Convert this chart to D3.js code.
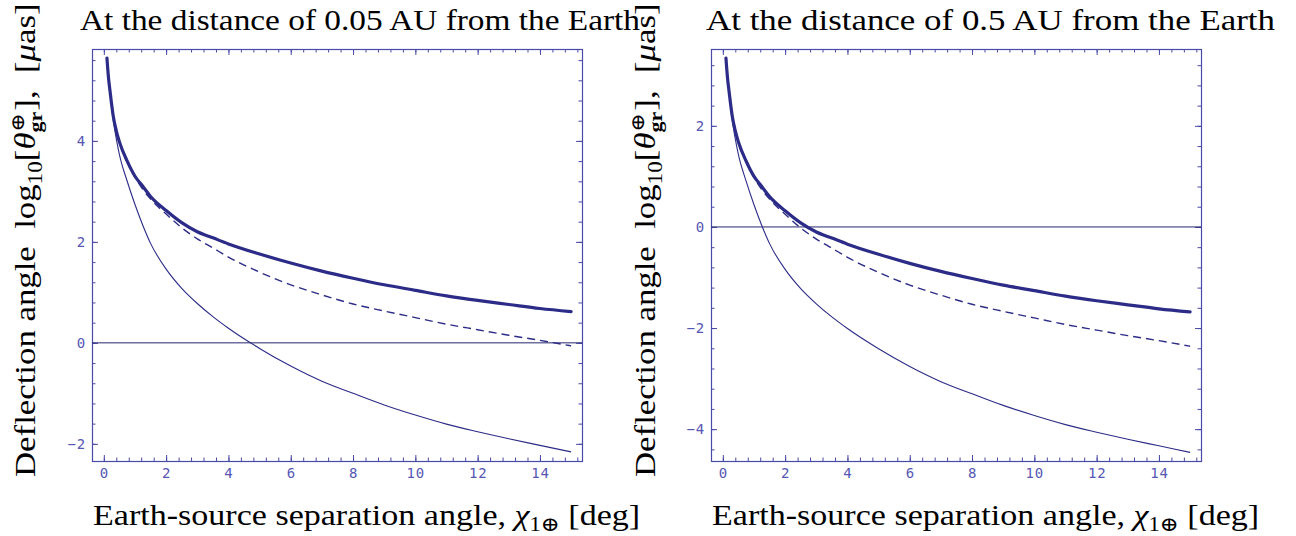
<!DOCTYPE html>
<html><head><meta charset="utf-8">
<script src="https://cdn.jsdelivr.net/npm/d3@7"></script>
<style>body{margin:0;background:#fff}</style>
</head><body>
<svg id="c" width="1296" height="536" xmlns="http://www.w3.org/2000/svg"></svg>
<script>
// ---- data ----
const chi = [0.1,0.15,0.2,0.3,0.4,0.5,0.75,1,1.25,1.5,2,2.5,3,3.5,4,5,6,7,8,9,10,11,12,13,14,15];

const nearThick  = [5.64,5.25,4.98,4.5,4.2,3.98,3.6,3.3,3.1,2.9,2.62,2.38,2.2,2.08,1.96,1.76,1.58,1.42,1.28,1.15,1.04,0.93,0.84,0.76,0.68,0.62];
const nearDashed = [5.64,5.25,4.98,4.5,4.2,3.97,3.58,3.28,3.04,2.85,2.55,2.28,2.06,1.88,1.7,1.4,1.15,0.95,0.77,0.63,0.5,0.37,0.26,0.15,0.05,-0.06];
const nearThin   = [5.64,5.22,4.95,4.42,4.04,3.73,3.2,2.74,2.33,1.97,1.46,1.08,0.78,0.52,0.29,-0.11,-0.46,-0.76,-1.0,-1.23,-1.43,-1.61,-1.76,-1.9,-2.03,-2.16];

const farThick  = [3.34,2.95,2.68,2.2,1.9,1.68,1.3,1.0,0.8,0.6,0.32,0.08,-0.1,-0.22,-0.34,-0.54,-0.72,-0.88,-1.02,-1.15,-1.26,-1.37,-1.46,-1.54,-1.62,-1.68];
const farDashed = [3.34,2.95,2.68,2.2,1.9,1.67,1.28,0.98,0.74,0.55,0.25,-0.02,-0.24,-0.42,-0.6,-0.9,-1.15,-1.35,-1.53,-1.67,-1.8,-1.93,-2.04,-2.15,-2.25,-2.36];
const farThin   = [3.34,2.92,2.65,2.12,1.74,1.43,0.9,0.44,0.03,-0.33,-0.84,-1.22,-1.52,-1.78,-2.01,-2.41,-2.76,-3.06,-3.3,-3.53,-3.73,-3.91,-4.06,-4.2,-4.33,-4.46];

const xTicks = [0,2,4,6,8,10,12,14];
const nearYTicks = [-2,0,2,4];
const farYTicks = [-4,-2,0,2];
const titles = ["At the distance of 0.05 AU from the Earth", "At the distance of 0.5 AU from the Earth"];

// ---- drawing ----
const svg = d3.select("#c");
const serif = "'Liberation Serif','DejaVu Serif',serif";
const mono = "'DejaVu Sans Mono','Liberation Mono',monospace";
const frameCol = "#4a4aa8", curveCol = "#2c2c88", tickTextCol = "#5656b4";

function panel(o) {
  const x = d3.scaleLinear().domain([-0.38, 15.35]).range([o.x0, o.x1]);
  const y = d3.scaleLinear().domain(o.ydom).range([461, 49]);
  const g = svg.append("g");

  const minorX = d3.range(0, 15.3, 0.4).map(v => +v.toFixed(2));
  const minorY = d3.range(Math.ceil(o.ydom[0] / 0.4) * 0.4, o.ydom[1], 0.4).map(v => +v.toFixed(2));

  function ax(axis, tr) {
    const a = g.append("g").attr("transform", tr).call(axis);
    a.select(".domain").remove();
    a.selectAll("line").attr("stroke", frameCol).attr("stroke-width", 1);
    a.selectAll("text").attr("font-family", mono).attr("font-size", 14).attr("letter-spacing", 0.8).attr("fill", tickTextCol);
    return a;
  }
  // minor ticks
  ax(d3.axisBottom(x).tickValues(minorX).tickSize(-3.5).tickFormat(""), `translate(0,461)`);
  ax(d3.axisTop(x).tickValues(minorX).tickSize(-3.5).tickFormat(""), `translate(0,49)`);
  ax(d3.axisLeft(y).tickValues(minorY).tickSize(-3.5).tickFormat(""), `translate(${o.x0},0)`);
  ax(d3.axisRight(y).tickValues(minorY).tickSize(-3.5).tickFormat(""), `translate(${o.x1},0)`);
  // major ticks
  ax(d3.axisBottom(x).tickValues(xTicks).tickSize(-6).tickPadding(7).tickFormat(d3.format("d")), `translate(0,461)`);
  ax(d3.axisTop(x).tickValues(xTicks).tickSize(-6).tickFormat(""), `translate(0,49)`);
  ax(d3.axisLeft(y).tickValues(o.yticks).tickSize(-6).tickPadding(6).tickFormat(d3.format("d")), `translate(${o.x0},0)`);
  ax(d3.axisRight(y).tickValues(o.yticks).tickSize(-6).tickFormat(""), `translate(${o.x1},0)`);

  // frame
  g.append("rect").attr("x", o.x0 + 0.5).attr("y", 49.5).attr("width", o.x1 - o.x0).attr("height", 412)
    .attr("fill", "none").attr("stroke", frameCol).attr("stroke-width", 1.2);

  // zero line
  g.append("line").attr("x1", o.x0).attr("x2", o.x1).attr("y1", y(0)).attr("y2", y(0))
    .attr("stroke", "#26266e").attr("stroke-width", 1);

  const line = vals => d3.line().x((d, i) => x(chi[i])).y(d => y(d)).curve(d3.curveMonotoneX)(vals);
  g.append("path").attr("d", line(o.thin)).attr("fill", "none").attr("stroke", curveCol).attr("stroke-width", 1.1);
  g.append("path").attr("d", line(o.dashed)).attr("fill", "none").attr("stroke", curveCol).attr("stroke-width", 1.4).attr("stroke-dasharray", "8,5");
  g.append("path").attr("d", line(o.thick)).attr("fill", "none").attr("stroke", curveCol).attr("stroke-width", 3.2).attr("stroke-linecap", "round");

  // title
  svg.append("text").attr("x", o.tx).attr("y", 30).attr("font-family", serif).attr("font-size", 30)
    .attr("textLength", o.tlen).attr("lengthAdjust", "spacingAndGlyphs").text(o.title);

  // x label
  const xl = svg.append("text").attr("transform", `translate(${o.x0 + 1},525) scale(1.135,1)`)
    .attr("font-family", serif).attr("font-size", 30);
  xl.append("tspan").text("Earth-source separation angle, ");
  xl.append("tspan").attr("font-style", "italic").text("χ");
  xl.append("tspan").attr("font-size", 20).attr("dy", 6).text("1⊕");
  xl.append("tspan").attr("dy", -6).text(" [deg]");

  // y label
  const yl = svg.append("text").attr("transform", `translate(${o.ylx},477) rotate(-90) scale(1.16,1)`)
    .attr("font-family", serif).attr("font-size", 30);
  yl.append("tspan").text("Deflection angle\u00a0\u00a0log");
  yl.append("tspan").attr("font-size", 20).attr("dy", 7).text("10");
  yl.append("tspan").attr("dy", -7).text("[");
  yl.append("tspan").attr("font-style", "italic").text("θ");
  yl.append("tspan").attr("font-size", 19).attr("font-weight", "bold").attr("dy", 7).text("gr");
  yl.append("tspan").attr("font-size", 19).attr("dx", -17).attr("dy", -18).text("⊕");
  yl.append("tspan").attr("dy", 11).attr("dx", 2).text("],\u00a0\u00a0[");
  yl.append("tspan").attr("font-style", "italic").text("μ");
  yl.append("tspan").text("as]");
}

panel({x0: 92, x1: 582, ydom: [-2.34, 5.82], yticks: nearYTicks, thick: nearThick, dashed: nearDashed, thin: nearThin,
       title: titles[0], tx: 80, tlen: 560, ylx: 35});
panel({x0: 711, x1: 1201, ydom: [-4.63, 3.52], yticks: farYTicks, thick: farThick, dashed: farDashed, thin: farThin,
       title: titles[1], tx: 706, tlen: 569, ylx: 655});
</script>
</body></html>
